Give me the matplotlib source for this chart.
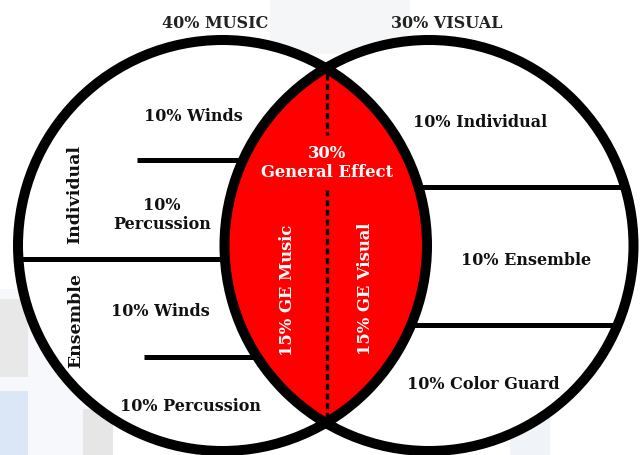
import matplotlib
matplotlib.use("Agg")
import matplotlib.pyplot as plt
from matplotlib.patches import Ellipse, Rectangle

# ------------- DATA --------------
captions = ["40% MUSIC", "30% VISUAL"]
music_groups = ["Individual", "Ensemble"]
music_parts = ["10% Winds", "10%\nPercussion", "10% Winds", "10% Percussion"]
visual_parts = ["10% Individual", "10% Ensemble", "10% Color Guard"]
ge_total = "30%\nGeneral Effect"
ge_parts = ["15% GE Music", "15% GE Visual"]

# ------------- LAYOUT (pixel coords, y down) --------------
W, H = 641, 456
left_c, right_c, cy = 222.5, 429.0, 246.5
ew, eh = 409.0, 411.0
outline_px = 10
divider_px = 5

caption_xy = [(215, 23), (447, 23)]
group_xy = [(75, 195), (76, 321)]
music_xy = [(193, 117), (162, 215), (160, 312), (191, 407)]
visual_xy = [(480, 123), (526, 261), (483, 385)]
ge_total_xy = (327, 163)
ge_parts_xy = [(288, 290), (366, 289)]

music_div = [(137, 161), (0, 260), (144, 358)]   # (x start, y)
visual_div = [188, 326]
dash_segments = [(75, 136), (191, 421)]

px = 72 / 100  # points per pixel at dpi 100
FONT = "DejaVu Serif"

fig = plt.figure(figsize=(W / 100, H / 100), dpi=100)
ax = fig.add_axes([0, 0, 1, 1])
ax.set_xlim(0, W)
ax.set_ylim(H, 0)
ax.axis("off")

# faint watermark behind the diagram
for (x, y, w, h, c) in [(0, 290, 90, 166, "#f6f8fb"), (0, 300, 28, 78, "#e8e8e8"),
                        (0, 392, 28, 64, "#dbe6f6"), (83, 410, 30, 46, "#e6e6e6"),
                        (270, 0, 140, 55, "#f5f6f7"), (510, 370, 40, 86, "#f0f3f7")]:
    ax.add_patch(Rectangle((x, y), w, h, color=c, lw=0, zorder=0))

left_fill = Ellipse((left_c, cy), ew, eh, facecolor="white", edgecolor="none", zorder=1)
right_fill = Ellipse((right_c, cy), ew, eh, facecolor="white", edgecolor="none", zorder=1)
ax.add_patch(left_fill)
ax.add_patch(right_fill)

# dividers inside each circle
for x0, y in music_div:
    ln, = ax.plot([x0, 320], [y, y], color="black", lw=divider_px * px, zorder=2,
                  solid_capstyle="butt")
    ln.set_clip_path(left_fill)
for y in visual_div:
    ln, = ax.plot([330, W], [y, y], color="black", lw=divider_px * px, zorder=2,
                  solid_capstyle="butt")
    ln.set_clip_path(right_fill)

# red overlap
lens = Ellipse((left_c, cy), ew, eh, facecolor="#ff0000", edgecolor="none", zorder=3)
ax.add_patch(lens)
lens.set_clip_path(right_fill)

xm = (left_c + right_c) / 2 + 1
for y0, y1 in dash_segments:
    ax.plot([xm, xm], [y0, y1], color="black", lw=2.4, linestyle=(0, (1.8, 1.1)), zorder=4)

for c in (left_c, right_c):
    ax.add_patch(Ellipse((c, cy), ew, eh, facecolor="none", edgecolor="black",
                         lw=outline_px * px, zorder=5))

# ------------- TEXT --------------
txt = dict(family=FONT, fontweight="bold", ha="center", va="center", zorder=6)

for s, (x, y) in zip(captions, caption_xy):
    ax.text(x, y, s, color="#222222", fontsize=11.5, **txt)
for s, (x, y) in zip(music_groups, group_xy):
    ax.text(x, y, s, color="#111111", fontsize=12.5, rotation=90, **txt)
for s, (x, y) in zip(music_parts, music_xy):
    ax.text(x, y, s, color="#111111", fontsize=11.5, linespacing=1.1, **txt)
for s, (x, y) in zip(visual_parts, visual_xy):
    ax.text(x, y, s, color="#111111", fontsize=11.5, **txt)

ax.text(*ge_total_xy, ge_total, color="white", fontsize=11.8, linespacing=1.1, **txt)
for s, (x, y) in zip(ge_parts, ge_parts_xy):
    ax.text(x, y, s, color="white", fontsize=11.8, rotation=90, **txt)

fig.savefig("out.png", dpi=100)
